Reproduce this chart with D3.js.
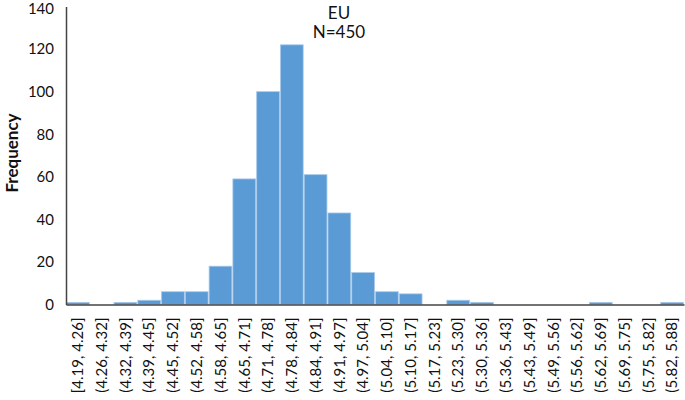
<!DOCTYPE html>
<html><head><meta charset="utf-8">
<script src="https://d3js.org/d3.v7.min.js"></script>
<style>body{margin:0;background:#fff}svg{display:block}text{font-family:Lato,"Open Sans",sans-serif}</style>
</head><body>
<svg id="c" width="685" height="400"></svg>
<script>
const categories = ["[4.19, 4.26]","(4.26, 4.32]","(4.32, 4.39]","(4.39, 4.45]","(4.45, 4.52]","(4.52, 4.58]","(4.58, 4.65]","(4.65, 4.71]","(4.71, 4.78]","(4.78, 4.84]","(4.84, 4.91]","(4.91, 4.97]","(4.97, 5.04]","(5.04, 5.10]","(5.10, 5.17]","(5.17, 5.23]","(5.23, 5.30]","(5.30, 5.36]","(5.36, 5.43]","(5.43, 5.49]","(5.49, 5.56]","(5.56, 5.62]","(5.62, 5.69]","(5.69, 5.75]","(5.75, 5.82]","(5.82, 5.88]"];
const frequency = [1,0,1,2,6,6,18,59,100,122,61,43,15,6,5,0,2,1,0,0,0,0,1,0,0,1];
const yTicks = [0,20,40,60,80,100,120,140];
const titleLines = ["EU","N=450"];
const yLabel = "Frequency";

(function(){
const svg = d3.select("#c");
const mLeft = 66, mRight = 684, mTop = 6.5, mBottom = 304.5;
const x = d3.scaleBand().domain(categories).range([mLeft, mRight]).paddingInner(0).paddingOuter(0);
const y = d3.scaleLinear().domain([0,140]).range([mBottom, mTop]);

svg.append("g").selectAll("rect").data(frequency).join("rect")
  .attr("x", (d,i)=>x(categories[i])+0.5)
  .attr("width", x.bandwidth()-1)
  .attr("y", d=>y(d))
  .attr("height", d=>mBottom-y(d))
  .attr("fill", "#5b9bd5")
  .attr("stroke", "#a9c9ea")
  .attr("stroke-width", 0.8);

const yAxis = svg.append("g").attr("transform",`translate(${mLeft},0)`)
  .call(d3.axisLeft(y).tickValues(yTicks).tickSize(0).tickPadding(12));
yAxis.select(".domain").attr("stroke","#444").attr("stroke-width",1.5);
yAxis.selectAll("text").attr("font-size",15).attr("fill","#111").attr("font-family","Lato,sans-serif");
yAxis.selectAll(".tick").filter(d=>d===140).select("text").attr("dy","0.45em");

const xAxis = svg.append("g").attr("transform",`translate(0,${mBottom})`)
  .call(d3.axisBottom(x).tickSize(0).tickPadding(0));
xAxis.select(".domain").attr("stroke","#444").attr("stroke-width",1.5);
xAxis.selectAll("text")
  .attr("font-size",15).attr("fill","#111").attr("font-family","Lato,sans-serif")
  .attr("text-anchor","end")
  .attr("transform","rotate(-90)")
  .attr("x",-13).attr("y",0).attr("dy","0.35em");

svg.append("text").attr("x",11).attr("y",153)
  .attr("transform","rotate(-90,11,153)")
  .attr("text-anchor","middle").attr("dominant-baseline","central")
  .attr("font-size",17).attr("font-weight","bold").attr("fill","#111")
  .text(yLabel);

svg.selectAll(".title").data(titleLines).join("text").attr("class","title")
  .attr("x",339).attr("y",(d,i)=>12+i*19)
  .attr("text-anchor","middle").attr("dominant-baseline","central")
  .attr("font-size",17).attr("fill","#111")
  .text(d=>d);
})();
</script>
</body></html>
